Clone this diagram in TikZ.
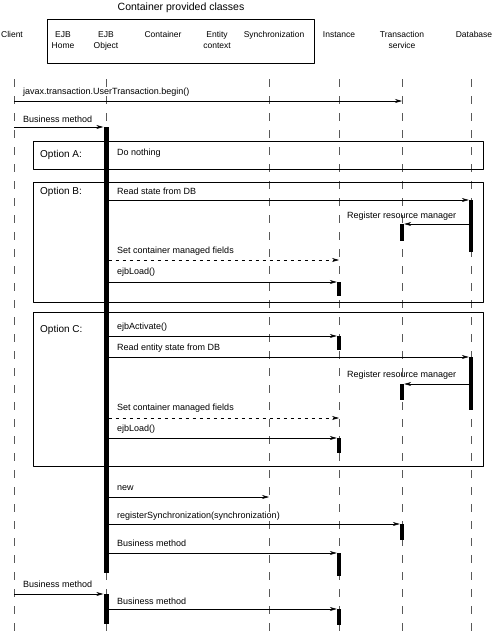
\documentclass[tikz,border=0pt]{standalone}
\usepackage{fontspec}
\setmainfont{Liberation Sans}
\usetikzlibrary{arrows.meta}
\tikzset{
  head/.style={font=\fontsize{8.5}{11}\selectfont, align=center, inner sep=0pt, anchor=north},
  lifeline/.style={draw=black!65, line width=0.6pt, dash pattern=on 8pt off 9pt},
  msg/.style={->, line width=0.6pt},
  setmsg/.style={->, line width=0.6pt, dash pattern=on 3pt off 4pt},
  lbl/.style={font=\fontsize{9}{10}\selectfont, anchor=west, inner sep=0pt},
  optlbl/.style={font=\fontsize{10}{12}\selectfont, anchor=west, inner sep=0pt},
  optbox/.style={draw, line width=0.6pt},
  actbar/.style={fill=black, inner sep=0pt, minimum width=4pt, anchor=north},
}
\begin{document}
\begin{tikzpicture}[line join=round,>={Stealth[length=7pt,width=4pt]},x=1pt,y=-1pt]
\useasboundingbox (0,0) rectangle (495,635);
% header
\node[font=\fontsize{10.5}{12}\selectfont, inner sep=0pt] (cpc) at (181,8) {Container provided classes};
\draw[line width=0.8pt] (47,19) rectangle (314,63);
\node[head] (client) at (12,31) {Client};
\node[head] (ejbhome) at (63,31) {EJB\\Home};
\node[head] (ejbobj) at (106,31) {EJB\\Object};
\node[head] (cont) at (163,31) {Container};
\node[head] (entctx) at (217,31) {Entity\\context};
\node[head] (sync) at (274,31) {Synchronization};
\node[head] (inst) at (339,31) {Instance};
\node[head] (trans) at (402,31) {Transaction\\service};
\node[head] (db) at (474,31) {Database};
% lifelines
\foreach \x in {14,106,269,339,402,471}
{
\draw[lifeline] (\x,79)--(\x,632);
}
% option boxes
\draw[optbox] (33,141) rectangle (483,169);
\draw[optbox] (33,182) rectangle (483,302);
\draw[optbox] (33,312) rectangle (483,466);
\node[optlbl] (optA) at (40,155) {Option A:};
\node[optlbl] (optB) at (40,192) {Option B:};
\node[optlbl] (optC) at (40,330) {Option C:};
% activation bars
\node[actbar, minimum width=5pt, minimum height=446pt] (ejbA) at (106,127) {};
\node[actbar, minimum width=5pt, minimum height=30pt] (ejbB) at (106,594) {};
\node[actbar, minimum height=52pt] (dbB) at (471,200) {};
\node[actbar, minimum height=53pt] (dbC) at (471,357) {};
\node[actbar, minimum height=17pt] (trB) at (402,224) {};
\node[actbar, minimum height=16pt] (trC) at (402,384) {};
\node[actbar, minimum height=16pt] (trD) at (402,524) {};
\node[actbar, minimum height=14pt] (inB) at (339,282) {};
\node[actbar, minimum height=14pt] (inC1) at (339,336) {};
\node[actbar, minimum height=15pt] (inC2) at (339,438) {};
\node[actbar, minimum height=23pt] (inD) at (339,553) {};
\node[actbar, minimum height=16pt] (inE) at (339,609) {};
% free ends
\coordinate (clBegin) at (14,101);
\coordinate (trBegin) at (402,101);
\coordinate (clCall1) at (14,127);
\coordinate (clCall2) at (14,594);
\coordinate (inSetB) at (339,260);
\coordinate (inSetC) at (339,418);
\coordinate (syNew) at (269,497);
% client messages
\node[lbl] (lBegin) at (23,92) {javax.transaction.UserTransaction.begin()};
\draw[msg] (clBegin)--(trBegin);
\node[lbl] (lCall1) at (23,119) {Business method};
\draw[msg] (clCall1)--(ejbA.north west);
% option A
\node[lbl] (lNothing) at (117,153) {Do nothing};
% option B
\node[lbl] (lReadB) at (117,191) {Read state from DB};
\draw[msg] (ejbA.east |- dbB.north)--(dbB.north west);
\node[lbl] (lRegB) at (347,216) {Register resource manager};
\draw[msg] (dbB.west |- trB.north)--(trB.north east);
\node[lbl] (lSetB) at (117,251) {Set container managed fields};
\draw[setmsg] (ejbA.east |- inSetB)--(inSetB);
\node[lbl] (lLoadB) at (117,272) {ejbLoad()};
\draw[msg] (ejbA.east |- inB.north)--(inB.north west);
% option C
\node[lbl] (lAct) at (117,327) {ejbActivate()};
\draw[msg] (ejbA.east |- inC1.north)--(inC1.north west);
\node[lbl] (lReadC) at (117,348) {Read entity state from DB};
\draw[msg] (ejbA.east |- dbC.north)--(dbC.north west);
\node[lbl] (lRegC) at (347,375) {Register resource manager};
\draw[msg] (dbC.west |- trC.north)--(trC.north east);
\node[lbl] (lSetC) at (117,408) {Set container managed fields};
\draw[setmsg] (ejbA.east |- inSetC)--(inSetC);
\node[lbl] (lLoadC) at (117,429) {ejbLoad()};
\draw[msg] (ejbA.east |- inC2.north)--(inC2.north west);
% after the options
\node[lbl] (lNew) at (117,488) {new};
\draw[msg] (ejbA.east |- syNew)--(syNew);
\node[lbl] (lReg) at (117,516) {registerSynchronization(synchronization)};
\draw[msg] (ejbA.east |- trD.north)--(trD.north west);
\node[lbl] (lBus1) at (117,543) {Business method};
\draw[msg] (ejbA.east |- inD.north)--(inD.north west);
\node[lbl] (lCall2) at (23,584) {Business method};
\draw[msg] (clCall2)--(ejbB.north west);
\node[lbl] (lBus2) at (117,601) {Business method};
\draw[msg] (ejbB.east |- inE.north)--(inE.north west);
\end{tikzpicture}
\end{document}
